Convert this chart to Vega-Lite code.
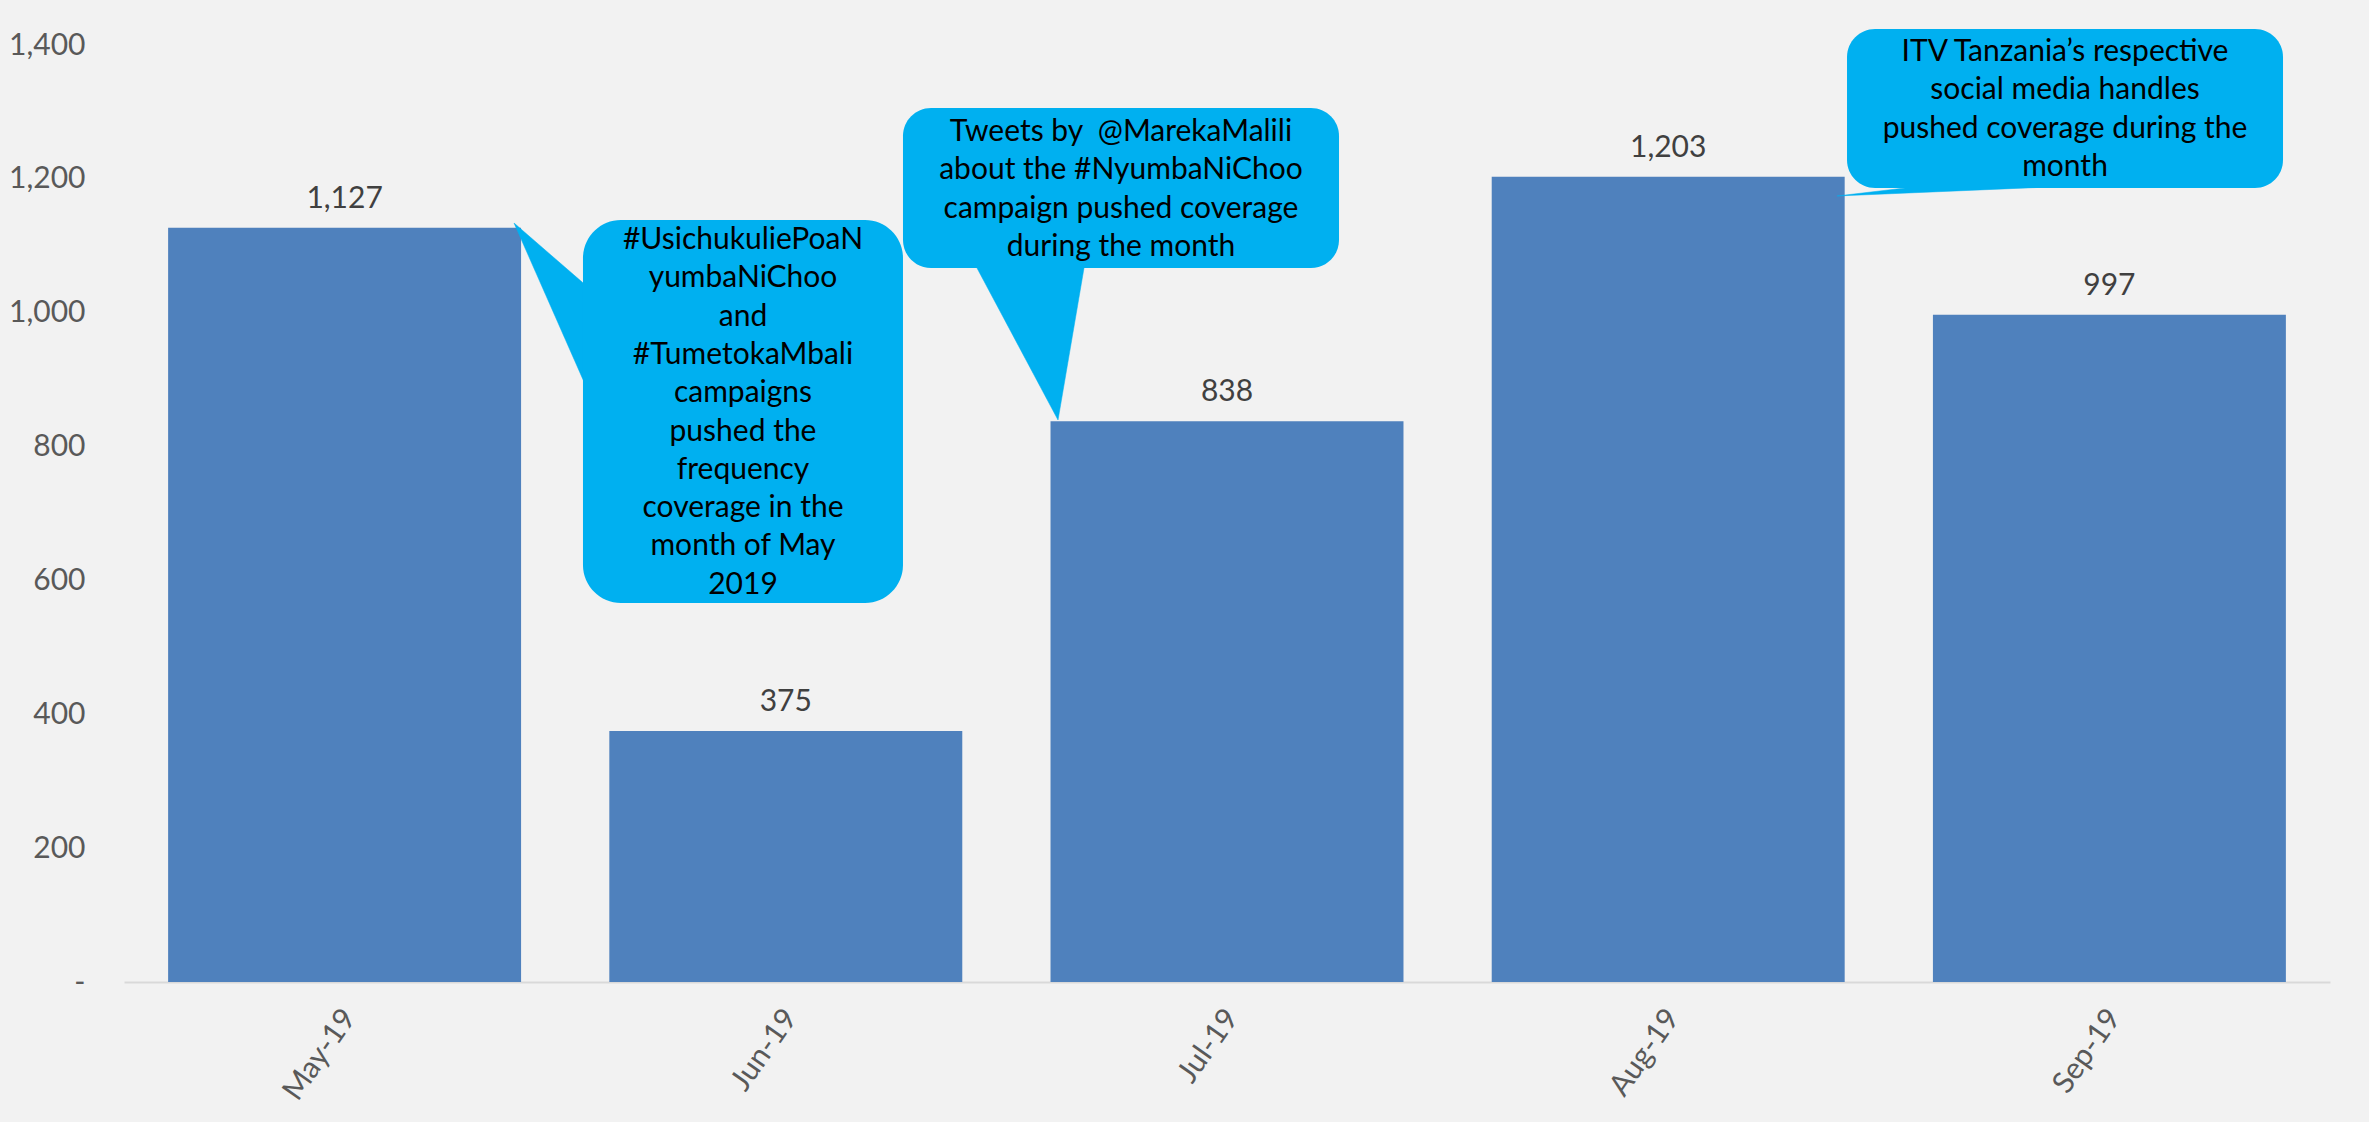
{
  "$schema": "https://vega.github.io/schema/vega-lite/v6.json",
  "autosize": {"type": "none"},
  "width": 2206,
  "height": 937,
  "padding": {"left": 124, "top": 45, "right": 39, "bottom": 140},
  "background": "#f2f2f2",
  "config": {
    "font": "Lato",
    "view": {"stroke": null},
    "axis": {"labelFont": "Lato", "labelColor": "#595959", "labelFontSize": 30}
  },
  "datasets": {
    "bars": [
      {"month": "May-19", "value": 1127},
      {"month": "Jun-19", "value": 375},
      {"month": "Jul-19", "value": 838},
      {"month": "Aug-19", "value": 1203},
      {"month": "Sep-19", "value": 997}
    ],
    "boxes": [
      {"id": 1, "x": 1.0403, "x2": 1.7656, "y": 1138.5, "y2": 566.3},
      {"id": 2, "x": 1.7656, "x2": 2.7539, "y": 1305.9, "y2": 1066.8},
      {"id": 3, "x": 3.9053, "x2": 4.8935, "y": 1423.9, "y2": 1186.3}
    ],
    "pointers": [
      {"id": 1, "k": 1, "x": 0.884, "y": 1134.0},
      {"id": 1, "k": 2, "x": 1.0789, "y": 1022.6},
      {"id": 1, "k": 3, "x": 1.0789, "y": 842.5},
      {"id": 2, "k": 1, "x": 2.117, "y": 839.7},
      {"id": 2, "k": 2, "x": 1.9116, "y": 1093.7},
      {"id": 2, "k": 3, "x": 2.1829, "y": 1093.7},
      {"id": 3, "k": 1, "x": 3.8826, "y": 1174.4},
      {"id": 3, "k": 2, "x": 4.0752, "y": 1189.3},
      {"id": 3, "k": 3, "x": 4.4152, "y": 1189.3}
    ],
    "notes": [
      {"id": 1, "x": 1.403, "y": 1108.6, "lines": ["#UsichukuliePoaN", "yumbaNiChoo", "and", "#TumetokaMbali", "campaigns", "pushed the", "frequency", "coverage in the", "month of May", "2019"]},
      {"id": 2, "x": 2.2597, "y": 1270.0, "lines": ["Tweets by\u00a0 @MarekaMalili", "about the #NyumbaNiChoo", "campaign pushed coverage", "during the month"]},
      {"id": 3, "x": 4.3994, "y": 1389.5, "lines": ["ITV Tanzania’s respective", "social media handles", "pushed coverage during the", "month"]}
    ]
  },
  "layer": [
    {
      "data": {"name": "bars"},
      "encoding": {
        "x": {
          "field": "month", "type": "nominal", "sort": null,
          "scale": {"paddingInner": 0.2, "paddingOuter": 0.1},
          "axis": {"title": null, "labelAngle": -55, "labelPadding": 30, "labelOffset": 5, "ticks": false, "domainColor": "#d9d9d9", "domainWidth": 2}
        },
        "y": {
          "field": "value", "type": "quantitative",
          "scale": {"domain": [0, 1400], "nice": false, "zero": true},
          "axis": {"title": null, "values": [0, 200, 400, 600, 800, 1000, 1200, 1400], "labelExpr": "datum.value === 0 ? '-' : format(datum.value, ',')", "grid": false, "domain": false, "ticks": false, "labelPadding": 39}
        }
      },
      "layer": [
        {"mark": {"type": "bar", "color": "#4f81bd"}},
        {"mark": {"type": "text", "baseline": "alphabetic", "dy": -20, "fontSize": 30, "color": "#404040"}, "encoding": {"text": {"field": "value", "type": "quantitative", "format": ","}}}
      ]
    },
    {
      "layer": [
        {
          "data": {"name": "pointers"},
          "mark": {"type": "line", "fill": "#00b0f0", "stroke": "#00b0f0", "strokeWidth": 0.5, "interpolate": "linear-closed"},
          "encoding": {
            "x": {"field": "x", "type": "quantitative", "scale": {"domain": [0, 5], "nice": false, "zero": false}, "axis": null},
            "y": {"field": "y", "type": "quantitative"},
            "detail": {"field": "id"},
            "order": {"field": "k"}
          }
        },
        {
          "data": {"name": "boxes"},
          "transform": [{"filter": "datum.id === 1"}],
          "mark": {"type": "rect", "color": "#00b0f0", "cornerRadius": 38},
          "encoding": {
            "x": {"field": "x", "type": "quantitative", "axis": null},
            "x2": {"field": "x2"},
            "y": {"field": "y", "type": "quantitative"},
            "y2": {"field": "y2"}
          }
        },
        {
          "data": {"name": "boxes"},
          "transform": [{"filter": "datum.id !== 1"}],
          "mark": {"type": "rect", "color": "#00b0f0", "cornerRadius": 28},
          "encoding": {
            "x": {"field": "x", "type": "quantitative", "axis": null},
            "x2": {"field": "x2"},
            "y": {"field": "y", "type": "quantitative"},
            "y2": {"field": "y2"}
          }
        },
        {
          "data": {"name": "notes"},
          "mark": {"type": "text", "align": "center", "baseline": "middle", "fontSize": 30, "lineHeight": 38.3, "color": "#000000"},
          "encoding": {
            "x": {"field": "x", "type": "quantitative", "axis": null},
            "y": {"field": "y", "type": "quantitative"},
            "text": {"field": "lines"}
          }
        }
      ]
    }
  ],
  "resolve": {"scale": {"x": "independent"}, "axis": {"x": "independent"}}
}
